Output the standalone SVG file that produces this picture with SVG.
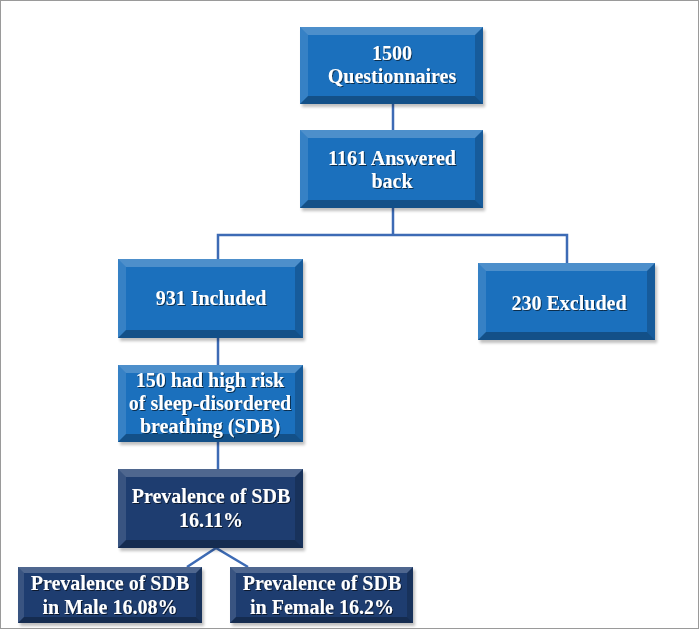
<svg xmlns="http://www.w3.org/2000/svg" width="699" height="629" viewBox="0 0 699 629">
<style>
.blue{fill:#1b70bd}
.navy{fill:#1e3d70}
.shadow{fill:#000;opacity:0.25}
.hi{fill:#fff;opacity:0.22}
.hi2{fill:#fff;opacity:0.12}
.lo{fill:#000;opacity:0.18}
.lo2{fill:#000;opacity:0.28}
.conn{stroke:#3d6bb5;stroke-width:2.5;fill:none}
text{font-family:"Liberation Serif","Times New Roman",serif;font-weight:bold;font-size:20px;fill:#fff;text-anchor:middle;filter:url(#ts)}
</style>
<defs>
<filter id="ts" x="-10%" y="-20%" width="120%" height="150%">
<feDropShadow dx="1" dy="1" stdDeviation="0.6" flood-color="#000" flood-opacity="0.6"/>
</filter>
<filter id="bs" x="-10%" y="-10%" width="130%" height="130%">
<feGaussianBlur stdDeviation="1.5"/>
</filter>
</defs>
<rect x="0.5" y="0.5" width="698" height="628" fill="#fff" stroke="#9a9a9a" stroke-width="1"/>
<g id="connectors">
<line class="conn" x1="393" y1="104" x2="393" y2="130"/>
<polyline class="conn" points="218,259 218,235 567,235 567,263"/>
<line class="conn" x1="393" y1="208" x2="393" y2="235"/>
<line class="conn" x1="218" y1="338" x2="218" y2="365"/>
<line class="conn" x1="218" y1="442" x2="218" y2="469"/>
<polyline class="conn" points="187,567 216,548 248,567"/>
</g>
<g id="n1">
<rect x="302" y="30" width="183" height="77" class="shadow" filter="url(#bs)"/>
<rect x="300" y="27" width="183" height="77" class="blue"/>
<polygon class="hi" points="300,27 483,27 475,35 308,35"/>
<polygon class="hi2" points="300,27 308,35 308,96 300,104"/>
<polygon class="lo" points="483,27 483,104 475,96 475,35"/>
<polygon class="lo2" points="300,104 308,96 475,96 483,104"/>
<text x="392" y="60">1500</text>
<text x="392" y="83">Questionnaires</text>
</g>
<g id="n2">
<rect x="302" y="133" width="183" height="78" class="shadow" filter="url(#bs)"/>
<rect x="300" y="130" width="183" height="78" class="blue"/>
<polygon class="hi" points="300,130 483,130 475,138 308,138"/>
<polygon class="hi2" points="300,130 308,138 308,200 300,208"/>
<polygon class="lo" points="483,130 483,208 475,200 475,138"/>
<polygon class="lo2" points="300,208 308,200 475,200 483,208"/>
<text x="392" y="165">1161 Answered</text>
<text x="392" y="188">back</text>
</g>
<g id="n3">
<rect x="120" y="262" width="185" height="79" class="shadow" filter="url(#bs)"/>
<rect x="118" y="259" width="185" height="79" class="blue"/>
<polygon class="hi" points="118,259 303,259 295,267 126,267"/>
<polygon class="hi2" points="118,259 126,267 126,330 118,338"/>
<polygon class="lo" points="303,259 303,338 295,330 295,267"/>
<polygon class="lo2" points="118,338 126,330 295,330 303,338"/>
<text x="211" y="305">931 Included</text>
</g>
<g id="n4">
<rect x="480" y="266" width="177" height="77" class="shadow" filter="url(#bs)"/>
<rect x="478" y="263" width="177" height="77" class="blue"/>
<polygon class="hi" points="478,263 655,263 647,271 486,271"/>
<polygon class="hi2" points="478,263 486,271 486,332 478,340"/>
<polygon class="lo" points="655,263 655,340 647,332 647,271"/>
<polygon class="lo2" points="478,340 486,332 647,332 655,340"/>
<text x="569" y="310">230 Excluded</text>
</g>
<g id="n5">
<rect x="120" y="368" width="185" height="77" class="shadow" filter="url(#bs)"/>
<rect x="118" y="365" width="185" height="77" class="blue"/>
<polygon class="hi" points="118,365 303,365 295,373 126,373"/>
<polygon class="hi2" points="118,365 126,373 126,434 118,442"/>
<polygon class="lo" points="303,365 303,442 295,434 295,373"/>
<polygon class="lo2" points="118,442 126,434 295,434 303,442"/>
<text x="210" y="387">150 had high risk</text>
<text x="210" y="410">of sleep-disordered</text>
<text x="210" y="433">breathing (SDB)</text>
</g>
<g id="n6">
<rect x="120" y="472" width="185" height="79" class="shadow" filter="url(#bs)"/>
<rect x="118" y="469" width="185" height="79" class="navy"/>
<polygon class="hi" points="118,469 303,469 295,477 126,477"/>
<polygon class="hi2" points="118,469 126,477 126,540 118,548"/>
<polygon class="lo" points="303,469 303,548 295,540 295,477"/>
<polygon class="lo2" points="118,548 126,540 295,540 303,548"/>
<text x="211" y="503">Prevalence of SDB</text>
<text x="211" y="527">16.11%</text>
</g>
<g id="n7">
<rect x="20" y="570" width="184" height="56" class="shadow" filter="url(#bs)"/>
<rect x="18" y="567" width="184" height="56" class="navy"/>
<polygon class="hi" points="18,567 202,567 196,573 24,573"/>
<polygon class="hi2" points="18,567 24,573 24,617 18,623"/>
<polygon class="lo" points="202,567 202,623 196,617 196,573"/>
<polygon class="lo2" points="18,623 24,617 196,617 202,623"/>
<text x="110" y="590">Prevalence of SDB</text>
<text x="110" y="614">in Male 16.08%</text>
</g>
<g id="n8">
<rect x="232" y="570" width="183" height="56" class="shadow" filter="url(#bs)"/>
<rect x="230" y="567" width="183" height="56" class="navy"/>
<polygon class="hi" points="230,567 413,567 407,573 236,573"/>
<polygon class="hi2" points="230,567 236,573 236,617 230,623"/>
<polygon class="lo" points="413,567 413,623 407,617 407,573"/>
<polygon class="lo2" points="230,623 236,617 407,617 413,623"/>
<text x="322" y="590">Prevalence of SDB</text>
<text x="322" y="614">in Female 16.2%</text>
</g>
</svg>
